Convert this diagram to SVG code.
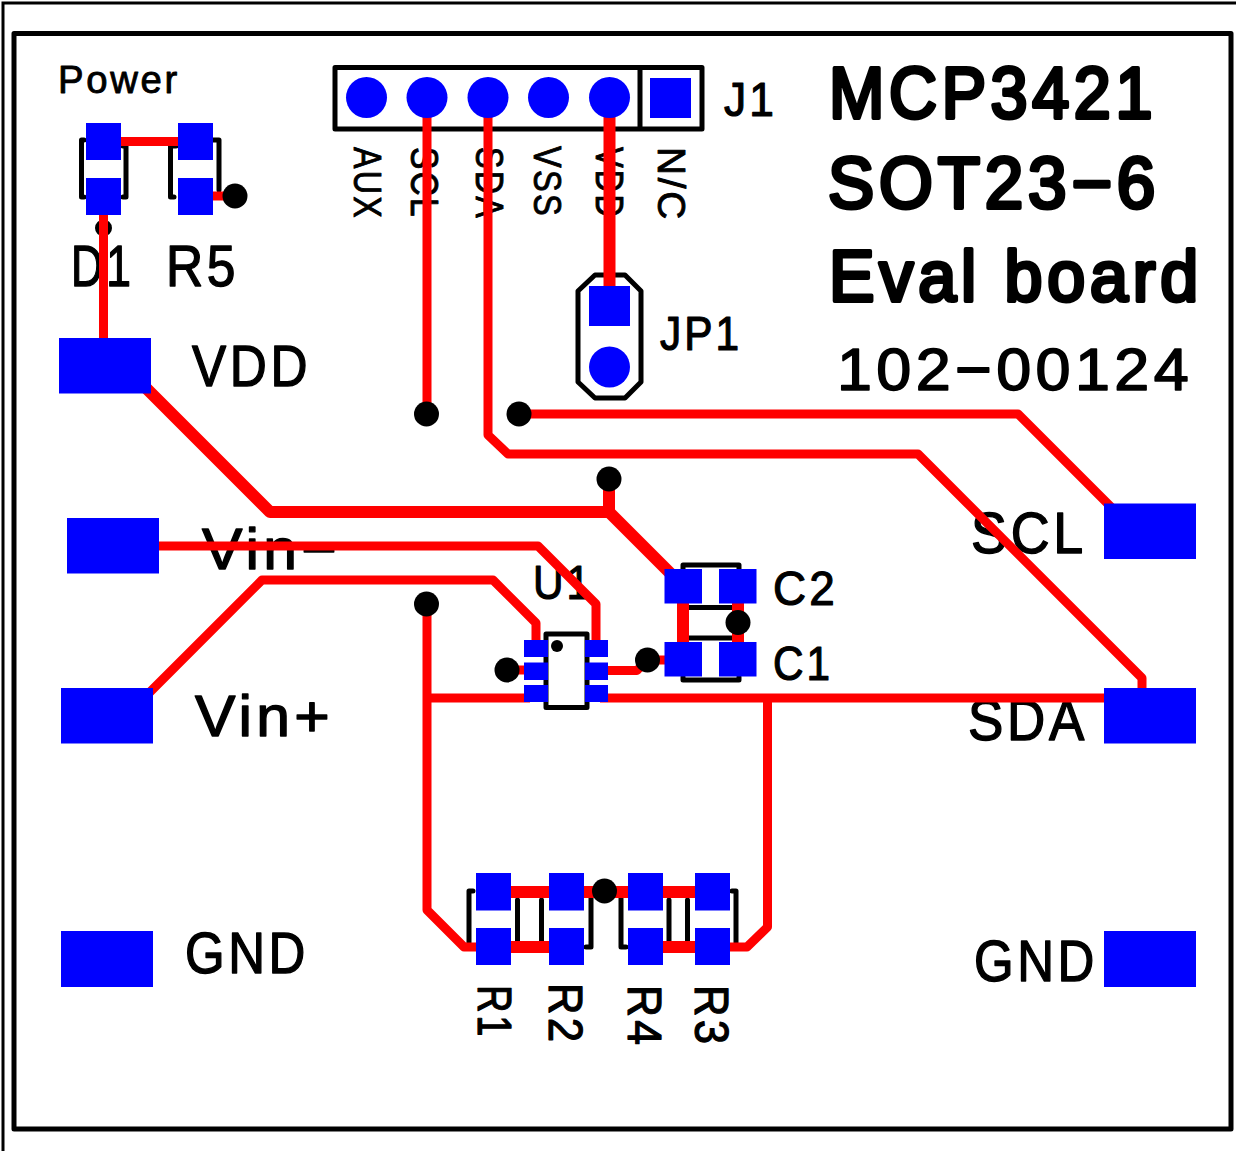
<svg xmlns="http://www.w3.org/2000/svg" width="1236" height="1151" viewBox="0 0 1236 1151">
<style>
text{font-family:"Liberation Sans",Arial,sans-serif;fill:#000;stroke:#000;stroke-linejoin:round;stroke-linecap:round;letter-spacing:.07em}
.s{font-size:38px;stroke-width:.9px}
.m{font-size:58px;stroke-width:1.4px}
.c{font-size:49px;stroke-width:1.2px}
.t{font-size:72px;stroke-width:4px}
.n{font-size:60px;stroke-width:1.6px}
.silk{fill:none;stroke:#000;stroke-width:5;stroke-linecap:round;stroke-linejoin:round}
.tr{fill:none;stroke:#f00;stroke-width:9;stroke-linejoin:round;stroke-linecap:butt}
.w{stroke-width:12}
.p{fill:#00f}
.d{fill:#000}
</style>
<g id="frame" fill="none" stroke="#000">
<path d="M3 1151V3H1236" stroke-width="3"/>
<rect x="14" y="33.500" width="1217" height="1095.500" stroke-width="5" stroke-linejoin="round"/>
</g>
<g id="silkscreen">
<path class="silk" d="M84 140H81.500V197H84M123 146H126V197H123M176 146H170.500V197H174M213 140H219V190"/>
<path class="silk" d="M335 67.500H702V129H335ZM640 67.500V129"/>
<path class="silk" d="M595 275H625L641 291V382L625 398H595L578 382V291Z"/>
<path class="silk" d="M683 569V565H739V569M689 607.500H733M689 638H733M683 677V680H739V677"/>
<rect class="silk" x="546" y="634" width="41" height="73.500"/>
<path class="silk" d="M473 891H469V947M517.500 900V947M541.500 900V947M591 897V947H586M621 897V947H626M669 900V947M687.500 900V947M732 891H736V947"/>
<circle class="d" cx="557" cy="646" r="6"/>
</g>
<g id="labels">
<text class="s" x="58" y="92.500" textLength="122" lengthAdjust="spacingAndGlyphs">Power</text>
<text class="m" x="71" y="286" textLength="63" lengthAdjust="spacingAndGlyphs">D1</text>
<text class="m" x="166" y="286" textLength="73" lengthAdjust="spacingAndGlyphs">R5</text>
<text class="c" x="724" y="115.500" textLength="53" lengthAdjust="spacingAndGlyphs">J1</text>
<text class="c" x="660" y="350" textLength="82" lengthAdjust="spacingAndGlyphs">JP1</text>
<text class="t" x="829" y="118" textLength="328" lengthAdjust="spacingAndGlyphs">MCP3421</text>
<text class="t" x="828" y="208" textLength="332" lengthAdjust="spacingAndGlyphs">SOT23−6</text>
<text class="t" x="829" y="301" textLength="374" lengthAdjust="spacingAndGlyphs">Eval board</text>
<text class="n" x="837" y="390" textLength="356" lengthAdjust="spacingAndGlyphs">102−00124</text>
<text class="m" x="192" y="386" textLength="119" lengthAdjust="spacingAndGlyphs">VDD</text>
<text class="m" x="202" y="569" textLength="139" lengthAdjust="spacingAndGlyphs">Vin−</text>
<text class="m" x="195" y="736" textLength="139" lengthAdjust="spacingAndGlyphs">Vin+</text>
<text class="m" x="185" y="973" textLength="124" lengthAdjust="spacingAndGlyphs">GND</text>
<text class="m" x="974" y="981" textLength="124" lengthAdjust="spacingAndGlyphs">GND</text>
<text class="m" x="971" y="553" textLength="116" lengthAdjust="spacingAndGlyphs">SCL</text>
<text class="m" x="968" y="740" textLength="120" lengthAdjust="spacingAndGlyphs">SDA</text>
<text class="c" x="533" y="599" textLength="60" lengthAdjust="spacingAndGlyphs">U1</text>
<text class="c" x="773" y="605" textLength="65" lengthAdjust="spacingAndGlyphs">C2</text>
<text class="c" x="773" y="680" textLength="60" lengthAdjust="spacingAndGlyphs">C1</text>
<text class="s" transform="translate(353.500 147) rotate(90)" textLength="73" lengthAdjust="spacingAndGlyphs">AUX</text>
<text class="s" transform="translate(410.500 147) rotate(90)" textLength="72" lengthAdjust="spacingAndGlyphs">SCL</text>
<text class="s" transform="translate(475.500 147) rotate(90)" textLength="73" lengthAdjust="spacingAndGlyphs">SDA</text>
<text class="s" transform="translate(533.500 146) rotate(90)" textLength="72" lengthAdjust="spacingAndGlyphs">VSS</text>
<text class="s" transform="translate(595.500 147) rotate(90)" textLength="72" lengthAdjust="spacingAndGlyphs">VDD</text>
<text class="s" transform="translate(657.500 147) rotate(90)" textLength="75" lengthAdjust="spacingAndGlyphs">N/C</text>
<text class="c" transform="translate(478 985) rotate(90)" textLength="54" lengthAdjust="spacingAndGlyphs">R1</text>
<text class="c" transform="translate(549 983) rotate(90)" textLength="62" lengthAdjust="spacingAndGlyphs">R2</text>
<text class="c" transform="translate(628 985) rotate(90)" textLength="63" lengthAdjust="spacingAndGlyphs">R4</text>
<text class="c" transform="translate(695 985) rotate(90)" textLength="62" lengthAdjust="spacingAndGlyphs">R3</text>
</g>
<circle id="d1-via" class="d" cx="103.500" cy="228" r="8.500"/>
<g id="connectors">
<path class="tr" d="M121 141.500H178"/>
<path class="tr" d="M213 196H235"/>
<path class="tr" d="M103.500 210V340"/>
<path class="tr" d="M427 97V414"/>
<path class="tr" d="M488 97V435L508 454H918L1142 678V692"/>
<path class="tr w" d="M609.500 97V290"/>
<path class="tr" d="M519 414H1018L1112 508"/>
<path class="tr w" d="M140 382L270 512H609V479"/>
<path class="tr w" d="M609 512L672 575"/>
<path class="tr" d="M155 546H538L596 604V642"/>
<path class="tr" d="M146 696L262 580H493L536 623V642"/>
<path class="tr" d="M427 604V910L464 947H480"/>
<path class="tr" d="M427 698H530"/>
<path class="tr" d="M600 698H1110"/>
<path class="tr" d="M767.500 698V927L747 947H725"/>
<path class="tr w" d="M505 892H700"/>
<path class="tr w" d="M505 947H555M660 947H700"/>
<path class="tr" d="M507 670H530"/>
<path class="tr" d="M605 670.500H637L647 660H670"/>
<path class="tr w" d="M683 600V645M738 600V645"/>
</g>
<g id="D1"><rect class="p" x="86" y="123" width="35" height="37"/><rect class="p" x="86" y="178" width="35" height="37"/></g>
<g id="R5"><rect class="p" x="178" y="123" width="35" height="37"/><rect class="p" x="178" y="178" width="35" height="37"/></g>
<g id="J1">
<circle class="p" cx="366.500" cy="97.500" r="20.500"/><circle class="p" cx="427" cy="97.500" r="20.500"/><circle class="p" cx="488" cy="97.500" r="20.500"/><circle class="p" cx="548.500" cy="97.500" r="20.500"/><circle class="p" cx="609.500" cy="97.500" r="20.500"/>
<rect class="p" x="650" y="78" width="41" height="40"/>
</g>
<g id="JP1"><rect class="p" x="589" y="286" width="41" height="40"/><circle class="p" cx="609.500" cy="367" r="20.500"/></g>
<g id="pad-VDD"><rect class="p" x="59" y="338" width="92" height="55.500"/></g>
<g id="pad-VinN"><rect class="p" x="67" y="518" width="92" height="55.500"/></g>
<g id="pad-VinP"><rect class="p" x="61" y="688" width="92" height="55.500"/></g>
<g id="pad-GND1"><rect class="p" x="61" y="931" width="92" height="56"/></g>
<g id="pad-SCL"><rect class="p" x="1104" y="503.500" width="92" height="55.500"/></g>
<g id="pad-SDA"><rect class="p" x="1104" y="688" width="92" height="55.500"/></g>
<g id="pad-GND2"><rect class="p" x="1104" y="931" width="92" height="56"/></g>
<g id="U1">
<rect class="p" x="524" y="640" width="24" height="17"/><rect class="p" x="524" y="662.500" width="24" height="17.500"/><rect class="p" x="524" y="685" width="24" height="17"/>
<rect class="p" x="585" y="640" width="23" height="17"/><rect class="p" x="585" y="662.500" width="23" height="17.500"/><rect class="p" x="585" y="685" width="23" height="17"/>
</g>
<g id="C2"><rect class="p" x="664.500" y="569" width="37.500" height="34.500"/><rect class="p" x="719" y="569" width="37.500" height="34.500"/></g>
<g id="C1"><rect class="p" x="664.500" y="642" width="37.500" height="34.500"/><rect class="p" x="719" y="642" width="37.500" height="34.500"/></g>
<g id="R1"><rect class="p" x="476" y="873" width="35" height="37.500"/><rect class="p" x="476" y="928" width="35" height="37"/></g>
<g id="R2"><rect class="p" x="549" y="873" width="35" height="37.500"/><rect class="p" x="549" y="928" width="35" height="37"/></g>
<g id="R4"><rect class="p" x="628" y="873" width="35" height="37.500"/><rect class="p" x="628" y="928" width="35" height="37"/></g>
<g id="R3"><rect class="p" x="695" y="873" width="35" height="37.500"/><rect class="p" x="695" y="928" width="35" height="37"/></g>
<g id="vias">
<circle class="d" cx="235" cy="196" r="12.500"/>
<circle class="d" cx="426.500" cy="414" r="12.500"/>
<circle class="d" cx="519" cy="414" r="12.500"/>
<circle class="d" cx="609" cy="479" r="12.500"/>
<circle class="d" cx="426.500" cy="604" r="12.500"/>
<circle class="d" cx="507" cy="670" r="12.500"/>
<circle class="d" cx="647.500" cy="660" r="12.500"/>
<circle class="d" cx="738" cy="622.500" r="12.500"/>
<circle class="d" cx="604.500" cy="891" r="12.500"/>
</g>
</svg>
